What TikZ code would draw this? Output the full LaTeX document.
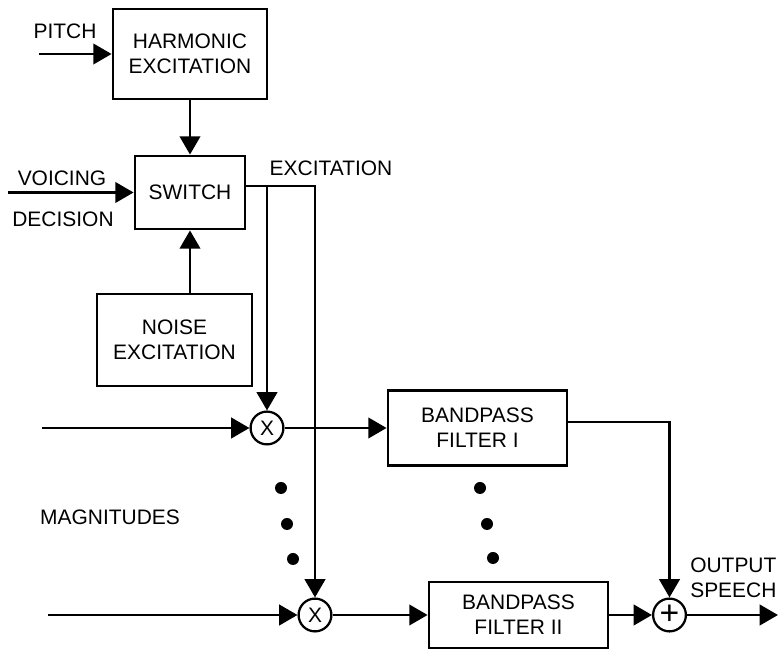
\documentclass[tikz,border=0pt]{standalone}
\usepackage{fontspec}
\setmainfont{Liberation Sans}
\usetikzlibrary{arrows.meta,calc,positioning}

\begin{document}
\begin{tikzpicture}[>={Triangle[length=13pt,width=14.5pt]}, font=\fontsize{14.9}{17.8}\selectfont]
    \tikzset{
        a/.style={->, line width=2pt},
        blk/.style={draw, rectangle, line width=2pt, align=center, inner sep=0pt},
        op/.style={draw, circle, line width=1.6pt, minimum size=0.82cm, inner sep=0pt},
        dot/.style={fill, circle, minimum size=0.3cm, inner sep=0pt}
    }
    \useasboundingbox (0,0) rectangle (19.475,16.425);

    % excitation part
    \node at (4.75,15.075) [blk, minimum width=3.85cm, minimum height=2.25cm] (harm) {HARMONIC\\EXCITATION};
    \node at (4.75,11.6125) [blk, minimum width=2.75cm, minimum height=1.825cm] (switch) {SWITCH};
    \node at (4.3625,7.925) [blk, minimum width=3.875cm, minimum height=2.3cm] (noise) {NOISE\\EXCITATION};

    \coordinate (pitchin) at (0.975,15.075);
    \coordinate (voicein) at (0.2,11.6125);
    \node at (1.625,15.65) (pitch) {PITCH};
    \node at (1.55,11.975) (voicing) {VOICING};
    \node at (1.575,10.95) (decision) {DECISION};
    \node at (8.275,12.225) (exclabel) {EXCITATION};

    \draw [a] (pitchin) -- (harm.west);
    \draw [a] (harm) -- (switch);
    \draw [a] (voicein) -- (switch.west);
    \draw [a] (noise.north -| switch.south) -- (switch.south);

    % channels
    \node at (6.675,5.725) [op] (mult1) {X};
    \node at (7.875,1.05) [op] (mult2) {X};
    \node at (11.9375,5.725) [blk, minimum width=4.475cm, minimum height=1.875cm] (bpf1) {BANDPASS\\FILTER I};
    \node at (12.9625,1.05) [blk, minimum width=4.475cm, minimum height=1.65cm] (bpf2) {BANDPASS\\FILTER II};
    \node at (16.7375,1.05) [op, font=\fontsize{24}{24}\selectfont] (sum) {+};

    \coordinate (in1) at (1.05,5.725);
    \coordinate (in2) at (1.2,1.05);
    \coordinate (out) at (19.45,1.05);
    \coordinate (exc) at ([yshift=1.6mm]switch.east);

    \node at (2.75,3.5) (mags) {MAGNITUDES};
    \node at (17.25,1.975) [anchor=west, align=left, inner sep=0pt] (outlabel) {OUTPUT\\SPEECH};

    \draw [a] (exc) -| (mult2.north);
    \draw [a] (exc -| mult1.north) -- (mult1.north);

    \draw [a] (in1) -- (mult1);
    \draw [a] (mult1) -- (bpf1);
    \draw [a] (in2) -- (mult2);
    \draw [a] (mult2) -- (bpf2);
    \draw [a] (bpf2) -- (sum);
    \draw [a] ([yshift=1.5mm]bpf1.east) -| (sum.north);
    \draw [a] (sum) -- (out);

    % dots between the channels
    \node at (7.025,4.225) [dot] (dl1) {};
    \node at (7.175,3.325) [dot] (dl2) {};
    \node at (7.325,2.45) [dot] (dl3) {};
    \node at (12.0,4.225) [dot] (dr1) {};
    \node at (12.175,3.325) [dot] (dr2) {};
    \node at (12.325,2.475) [dot] (dr3) {};
\end{tikzpicture}
\end{document}
